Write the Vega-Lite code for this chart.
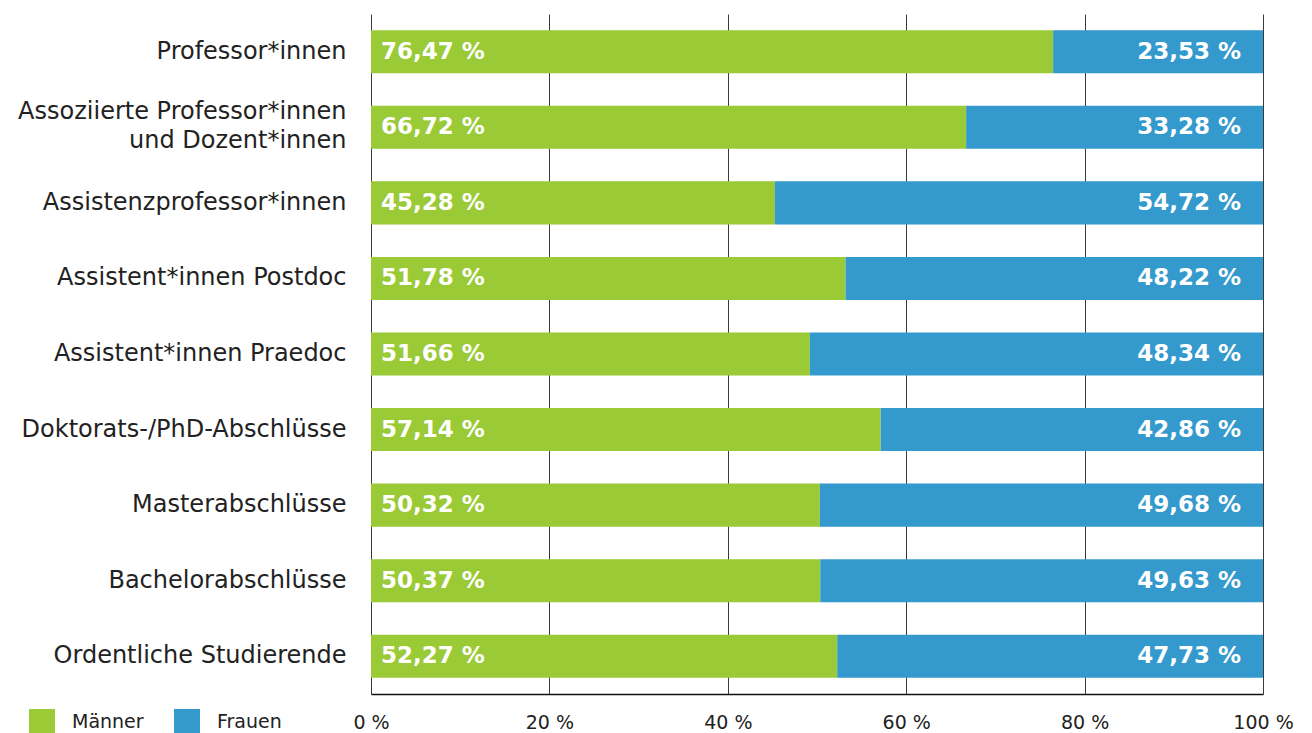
{
  "$schema": "https://vega.github.io/schema/vega-lite/v6.json",
  "autosize": "none",
  "width": 892,
  "height": 680,
  "padding": {"left": 371, "top": 14, "right": 49, "bottom": 39},
  "background": "white",
  "config": {
    "font": "DejaVu Sans",
    "view": {"stroke": null}
  },
  "data": {
    "values": [
      {"kategorie": "Professor*innen", "geschlecht": "Männer", "anteil": 76.47, "text": "76,47 %"},
      {"kategorie": "Professor*innen", "geschlecht": "Frauen", "anteil": 23.53, "text": "23,53 %"},
      {"kategorie": "Assoziierte Professor*innen|und Dozent*innen", "geschlecht": "Männer", "anteil": 66.72, "text": "66,72 %"},
      {"kategorie": "Assoziierte Professor*innen|und Dozent*innen", "geschlecht": "Frauen", "anteil": 33.28, "text": "33,28 %"},
      {"kategorie": "Assistenzprofessor*innen", "geschlecht": "Männer", "anteil": 45.28, "text": "45,28 %"},
      {"kategorie": "Assistenzprofessor*innen", "geschlecht": "Frauen", "anteil": 54.72, "text": "54,72 %"},
      {"kategorie": "Assistent*innen Postdoc", "geschlecht": "Männer", "anteil": 53.2, "text": "51,78 %"},
      {"kategorie": "Assistent*innen Postdoc", "geschlecht": "Frauen", "anteil": 46.8, "text": "48,22 %"},
      {"kategorie": "Assistent*innen Praedoc", "geschlecht": "Männer", "anteil": 49.2, "text": "51,66 %"},
      {"kategorie": "Assistent*innen Praedoc", "geschlecht": "Frauen", "anteil": 50.8, "text": "48,34 %"},
      {"kategorie": "Doktorats-/PhD-Abschlüsse", "geschlecht": "Männer", "anteil": 57.14, "text": "57,14 %"},
      {"kategorie": "Doktorats-/PhD-Abschlüsse", "geschlecht": "Frauen", "anteil": 42.86, "text": "42,86 %"},
      {"kategorie": "Masterabschlüsse", "geschlecht": "Männer", "anteil": 50.32, "text": "50,32 %"},
      {"kategorie": "Masterabschlüsse", "geschlecht": "Frauen", "anteil": 49.68, "text": "49,68 %"},
      {"kategorie": "Bachelorabschlüsse", "geschlecht": "Männer", "anteil": 50.37, "text": "50,37 %"},
      {"kategorie": "Bachelorabschlüsse", "geschlecht": "Frauen", "anteil": 49.63, "text": "49,63 %"},
      {"kategorie": "Ordentliche Studierende", "geschlecht": "Männer", "anteil": 52.27, "text": "52,27 %"},
      {"kategorie": "Ordentliche Studierende", "geschlecht": "Frauen", "anteil": 47.73, "text": "47,73 %"}
    ]
  },
  "encoding": {
    "y": {
      "field": "kategorie",
      "type": "nominal",
      "sort": null,
      "scale": {"paddingInner": 0.43, "paddingOuter": 0.215},
      "axis": {
        "title": null,
        "domain": false,
        "ticks": false,
        "labelPadding": 25,
        "labelFontSize": 24,
        "labelColor": "#222222",
        "labelLimit": 400,
        "labelLineHeight": 29,
        "labelOffset": {"condition": {"test": "indexof(datum.value, '|') >= 0", "value": -15}, "value": 0},
        "labelExpr": "split(datum.label, '|')"
      }
    }
  },
  "layer": [
    {
      "mark": {"type": "bar"},
      "encoding": {
        "x": {
          "field": "anteil",
          "type": "quantitative",
          "stack": "zero",
          "scale": {"domain": [0, 100]},
          "axis": {
            "title": null,
            "values": [0, 20, 40, 60, 80, 100],
            "labelExpr": "datum.value + ' %'",
            "labelFontSize": 19,
            "labelColor": "#222222",
            "labelPadding": 19,
            "labelFlush": false,
            "ticks": false,
            "grid": true,
            "gridColor": "#3a3a3a",
            "gridWidth": 1,
            "domainColor": "#111111",
            "domainWidth": 1.5
          }
        },
        "color": {
          "field": "geschlecht",
          "type": "nominal",
          "scale": {"domain": ["Männer", "Frauen"], "range": ["#9ACA35", "#3499CD"]},
          "legend": {
            "title": null,
            "orient": "none",
            "direction": "horizontal",
            "legendX": -342,
            "legendY": 695,
            "symbolType": "square",
            "symbolSize": 676,
            "symbolStrokeWidth": 0,
            "labelFontSize": 19,
            "labelColor": "#222222",
            "labelOffset": 17,
            "columnPadding": 30
          }
        },
        "order": {"field": "geschlecht", "sort": "descending"}
      }
    },
    {
      "transform": [{"filter": "datum.geschlecht == 'Männer'"}],
      "mark": {"type": "text", "align": "left", "dx": 10, "color": "white", "fontSize": 23, "fontWeight": "bold"},
      "encoding": {
        "x": {"datum": 0, "type": "quantitative"},
        "text": {"field": "text"}
      }
    },
    {
      "transform": [{"filter": "datum.geschlecht == 'Frauen'"}],
      "mark": {"type": "text", "align": "right", "dx": -22, "color": "white", "fontSize": 23, "fontWeight": "bold"},
      "encoding": {
        "x": {"datum": 100, "type": "quantitative"},
        "text": {"field": "text"}
      }
    }
  ]
}
